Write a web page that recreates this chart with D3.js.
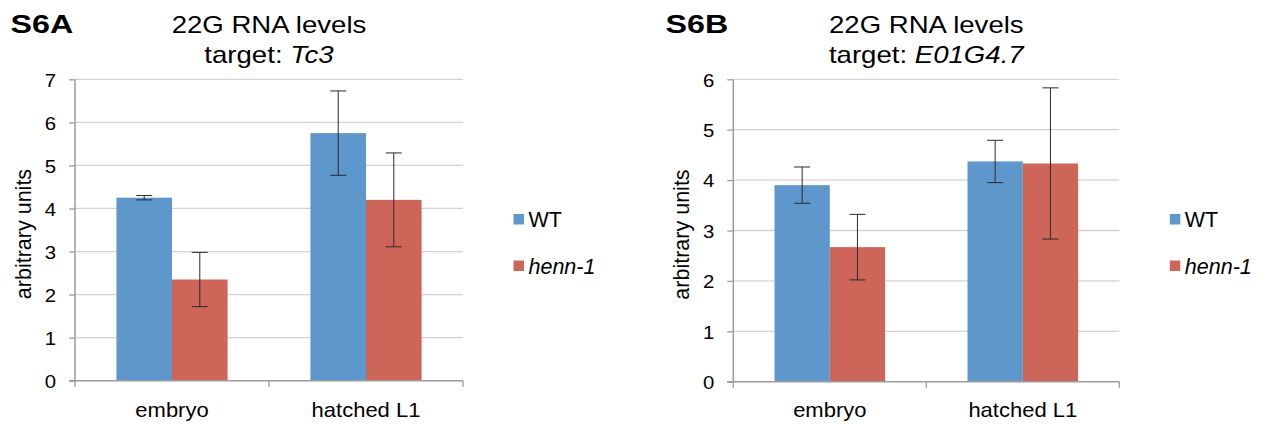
<!DOCTYPE html>
<html>
<head>
<meta charset="utf-8">
<script src="https://cdn.jsdelivr.net/npm/d3@7"></script>
<style>
  html, body { margin: 0; padding: 0; background: #fff; }
  svg { display: block; font-family: "Liberation Sans", Arial, Helvetica, sans-serif; }
</style>
</head>
<body>
<svg id="chart" width="1265" height="426"></svg>
<script>
// ---- data ----
const categories = ["embryo", "hatched L1"];
const seriesNames = ["WT", "henn-1"];
const seriesColors = ["#5e97cb", "#cd6658"];

const panelLabels = ["S6A", "S6B"];
const titleLine1 = "22G RNA levels";
const titleTargets = ["Tc3", "E01G4.7"];
const yLabel = "arbitrary units";

const a_WT = [4.25, 5.75];
const a_WT_err = [0.05, 0.98];
const a_henn = [2.35, 4.20];
const a_henn_err = [0.63, 1.09];
const a_ticks = [0, 1, 2, 3, 4, 5, 6, 7];

const b_WT = [3.90, 4.37];
const b_WT_err = [0.36, 0.42];
const b_henn = [2.67, 4.33];
const b_henn_err = [0.65, 1.50];
const b_ticks = [0, 1, 2, 3, 4, 5, 6];

// ---- drawing ----
const svg = d3.select("#chart");

function stretchedText(g, x, y, sx, size, anchor) {
  return g.append("text")
    .attr("transform", `translate(${x},${y}) scale(${sx},1)`)
    .attr("text-anchor", anchor)
    .attr("font-size", size)
    .attr("fill", "#000");
}

function panel(cfg) {
  const { left, right, top, bottom, ymax, ticks, values, errors, label, target, labelX } = cfg;
  const g = svg.append("g");

  const y = d3.scaleLinear().domain([0, ymax]).range([bottom, top]);
  const x0 = d3.scaleBand().domain(categories).range([left, right]).padding(0);
  const bw = x0.bandwidth();
  const gw = bw * 0.573;
  const x1 = d3.scaleBand().domain(seriesNames).range([(bw - gw) / 2, (bw + gw) / 2]).padding(0);

  // gridlines
  g.append("g").selectAll("line").data(ticks.filter(t => t > 0)).join("line")
    .attr("x1", left).attr("x2", right)
    .attr("y1", d => y(d)).attr("y2", d => y(d))
    .attr("stroke", "#d4d4d4").attr("stroke-width", 1.3);

  // y axis
  const yAxis = d3.axisLeft(y).tickValues(ticks).tickSize(6).tickFormat("");
  const ya = g.append("g").attr("transform", `translate(${left},0)`).call(yAxis);
  ya.select(".domain").attr("stroke", "#9c9c9c").attr("stroke-width", 1.5).attr("d", `M0,${top}V${bottom}`);
  ya.selectAll(".tick line").attr("stroke", "#9c9c9c").attr("stroke-width", 1.3);

  // tick labels
  ticks.forEach(t => {
    stretchedText(g, left - 19, y(t) + 7.3, 1.1, 18.5, "end").text(t);
  });

  // bars
  const rows = categories.map((c, i) => seriesNames.map((s, j) => ({
    cat: c, ser: s, v: values[j][i], e: errors[j][i], color: seriesColors[j]
  }))).flat();

  g.append("g").selectAll("rect").data(rows).join("rect")
    .attr("x", d => x0(d.cat) + x1(d.ser))
    .attr("width", x1.bandwidth())
    .attr("y", d => y(d.v))
    .attr("height", d => y(0) - y(d.v))
    .attr("fill", d => d.color);

  // x axis
  const xa = g.append("g").attr("transform", `translate(0,${bottom})`);
  xa.append("line").attr("x1", left - 6).attr("x2", right).attr("y1", 0).attr("y2", 0)
    .attr("stroke", "#9c9c9c").attr("stroke-width", 1.5);
  const bounds = [left, left + bw, right];
  xa.selectAll("line.tk").data(bounds).join("line").attr("class", "tk")
    .attr("x1", d => d).attr("x2", d => d).attr("y1", 0).attr("y2", 6)
    .attr("stroke", "#9c9c9c").attr("stroke-width", 1.3);
  categories.forEach(c => {
    stretchedText(g, x0(c) + bw / 2, 416.5, 1.1, 20, "middle").text(c);
  });

  // error bars
  const eb = g.append("g").selectAll("g").data(rows).join("g")
    .attr("stroke", "#2a2a2a").attr("stroke-width", 1);
  const cx = d => x0(d.cat) + x1(d.ser) + x1.bandwidth() / 2;
  eb.append("line").attr("x1", cx).attr("x2", cx)
    .attr("y1", d => y(d.v + d.e)).attr("y2", d => y(d.v - d.e));
  eb.append("line").attr("x1", d => cx(d) - 8).attr("x2", d => cx(d) + 8)
    .attr("y1", d => y(d.v + d.e)).attr("y2", d => y(d.v + d.e));
  eb.append("line").attr("x1", d => cx(d) - 8).attr("x2", d => cx(d) + 8)
    .attr("y1", d => y(d.v - d.e)).attr("y2", d => y(d.v - d.e));

  // y label
  g.append("text")
    .attr("transform", `translate(${left - 44},${(top + bottom) / 2 + 4}) rotate(-90)`)
    .attr("text-anchor", "middle").attr("font-size", 21.5).attr("fill", "#000")
    .text(yLabel);

  // title
  const cxT = (left + right) / 2;
  stretchedText(g, cxT, 33, 1.2, 23, "middle").text(titleLine1);
  const t2 = stretchedText(g, cxT, 62.5, 1.2, 23, "middle");
  t2.append("tspan").text("target: ");
  t2.append("tspan").attr("font-style", "italic").text(target);

  // panel label
  stretchedText(g, labelX, 32.5, 1.29, 25, "start").attr("font-weight", "bold").text(label);

  // legend
  const lx = right + 50.5;
  seriesNames.forEach((s, j) => {
    const ly = 219.5 + j * 46.5;
    g.append("rect").attr("x", lx).attr("y", ly - 5.5).attr("width", 10.5).attr("height", 10.5)
      .attr("fill", seriesColors[j]);
    const t = stretchedText(g, lx + 15, ly + 7.5, 1.0, 21.5, "start").text(s);
    if (j === 1) t.attr("font-style", "italic");
  });
}

panel({
  left: 75, right: 463, top: 79.3, bottom: 380.7, ymax: 7, ticks: a_ticks,
  values: [a_WT, a_henn], errors: [a_WT_err, a_henn_err],
  label: panelLabels[0], target: titleTargets[0], labelX: 10.5
});
panel({
  left: 733.3, right: 1119.3, top: 79.3, bottom: 381.7, ymax: 6, ticks: b_ticks,
  values: [b_WT, b_henn], errors: [b_WT_err, b_henn_err],
  label: panelLabels[1], target: titleTargets[1], labelX: 665.5
});
</script>
</body>
</html>
